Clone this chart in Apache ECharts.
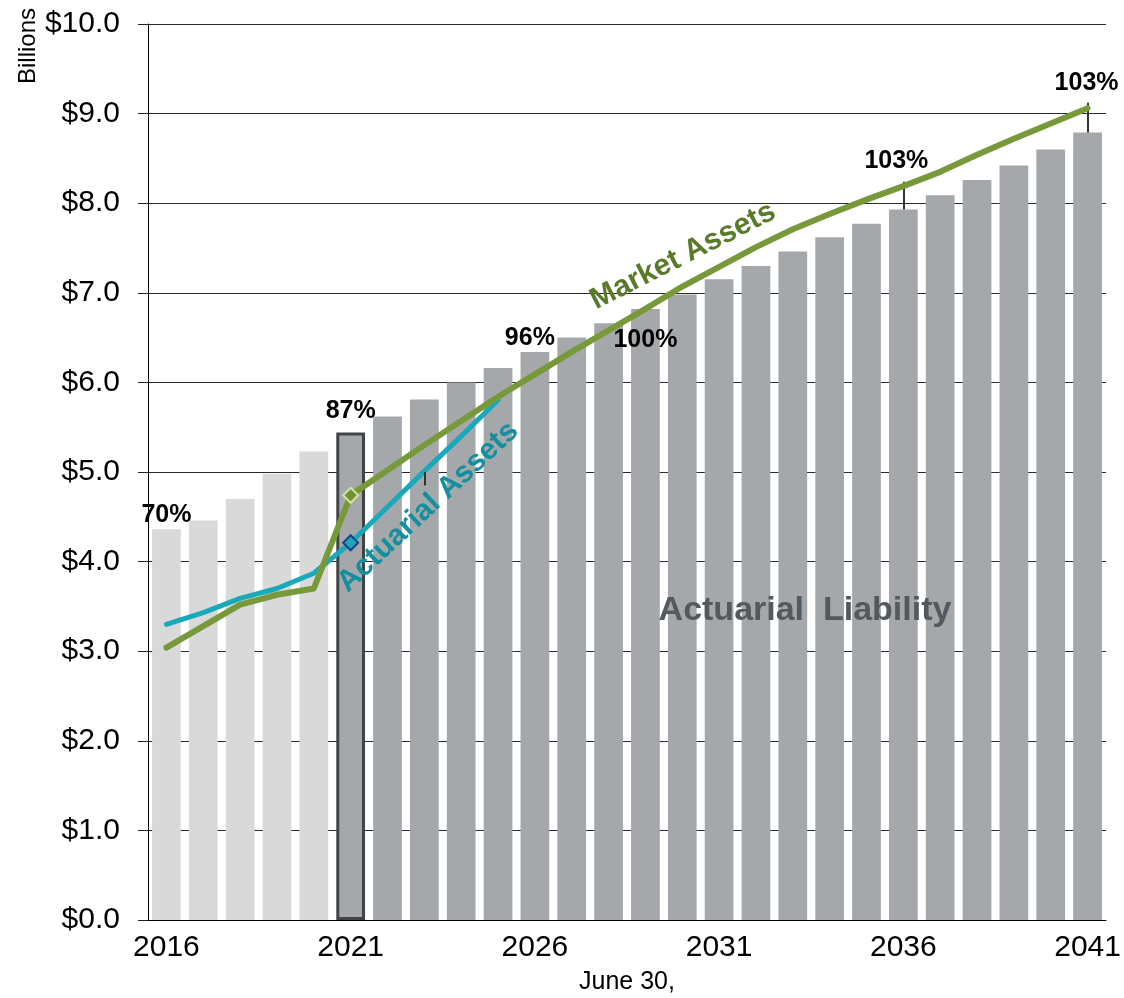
<!DOCTYPE html>
<html>
<head>
<meta charset="utf-8">
<title>Actuarial Liability and Assets</title>
<script src="https://cdn.jsdelivr.net/npm/echarts@6/dist/echarts.min.js"></script>
<style>
  html, body { margin: 0; padding: 0; background: #ffffff; }
  #chart { width: 1124px; height: 998px; }
</style>
</head>
<body>
<div id="chart"></div>
<script>
// Fiscal years ending June 30
const years = ['2016','2017','2018','2019','2020','2021','2022','2023','2024','2025','2026','2027','2028',
  '2029','2030','2031','2032','2033','2034','2035','2036','2037','2038','2039','2040','2041'];

// Values in $ billions
const actuarialLiability = [4.36, 4.46, 4.70, 4.98, 5.23, 5.44, 5.62, 5.81, 6.00, 6.16, 6.34, 6.50, 6.66,
  6.82, 6.98, 7.15, 7.30, 7.46, 7.62, 7.77, 7.93, 8.09, 8.26, 8.42, 8.60, 8.79];
const marketAssets = [3.04, 3.28, 3.52, 3.63, 3.70, 4.74, 5.02, 5.30, 5.57, 5.84, 6.09, 6.34, 6.58,
  6.82, 7.07, 7.29, 7.51, 7.71, 7.88, 8.04, 8.19, 8.35, 8.54, 8.72, 8.89, 9.06];
const actuarialAssets = [3.30, 3.43, 3.59, 3.70, 3.87, 4.21, 4.61, 5.01, 5.40, 5.80];

// Years annotated with the funded ratio (market assets / liability)
const ratioYears = ['2016', '2021', '2026', '2029', '2036', '2041'];
const valuationYear = '2021';
const lastHistoricalYear = '2020';

const FONT = '"Liberation Sans", Arial, sans-serif';

const chart = echarts.init(document.getElementById('chart'), null, { renderer: 'canvas' });

const histEnd = years.indexOf(lastHistoricalYear);
const valIdx = years.indexOf(valuationYear);

const barData = actuarialLiability.map((v, i) => {
  if (i === valIdx) {
    return { value: v, itemStyle: { color: '#a5a8ab', borderColor: '#3f4444', borderWidth: 3 } };
  }
  return { value: v, itemStyle: { color: i <= histEnd ? '#d9d9d9' : '#a5a8ab' } };
});

const marketData = marketAssets.map((v, i) => i === valIdx
  ? { value: v, symbol: 'diamond', symbolSize: 15,
      itemStyle: { color: '#6f9034', borderColor: '#d4e29b', borderWidth: 2 } }
  : { value: v, symbol: 'none' });

const actuarialData = years.map((y, i) => {
  if (i >= actuarialAssets.length) return '-';
  return i === valIdx
    ? { value: actuarialAssets[i], symbol: 'diamond', symbolSize: 15,
        itemStyle: { color: '#1aa8bb', borderColor: '#1d3f8a', borderWidth: 2 } }
    : { value: actuarialAssets[i], symbol: 'none' };
});

// Label placement around each annotated bar top
const ratioOffsets = {
  '2016': [0, -14], '2021': [0, -21], '2026': [-5, -14],
  '2029': [0, 31], '2036': [-7, -48], '2041': [-1, -49]
};

const ratioData = ratioYears.map(y => {
  const i = years.indexOf(y);
  const pct = Math.round(marketAssets[i] / actuarialLiability[i] * 100);
  return {
    value: [y, actuarialLiability[i]],
    pct: pct,
    label: { offset: ratioOffsets[y] }
  };
});

const i2036 = years.indexOf('2036');
const i2041 = years.indexOf('2041');

const option = {
  animation: false,
  backgroundColor: '#ffffff',
  grid: { left: 148, right: 18, top: 24, bottom: 78, containLabel: false },
  xAxis: {
    type: 'category',
    data: years,
    boundaryGap: true,
    axisLine: { show: true, lineStyle: { color: '#000', width: 1 } },
    axisTick: { show: false },
    axisLabel: {
      interval: 4, margin: 13,
      fontFamily: FONT, fontSize: 30, color: '#000'
    },
    splitLine: { show: false }
  },
  yAxis: {
    type: 'value',
    min: 0, max: 10, interval: 1,
    axisLine: { show: true, lineStyle: { color: '#000', width: 1 } },
    axisTick: { show: true, length: 10, lineStyle: { color: '#222', width: 1 } },
    axisLabel: {
      margin: 28, fontFamily: FONT, fontSize: 30, color: '#000',
      formatter: v => '$' + v.toFixed(1)
    },
    splitLine: { show: true, lineStyle: { color: '#2a2a2a', width: 1 } }
  },
  series: [
    {
      name: 'Actuarial Liability',
      type: 'bar',
      data: barData,
      barCategoryGap: '22%',
      z: 2
    },
    {
      name: 'Actuarial Assets',
      type: 'line',
      data: actuarialData,
      showSymbol: true,
      lineStyle: { color: '#1aa8bb', width: 5, cap: 'round', join: 'round' },
      itemStyle: { color: '#1aa8bb' },
      z: 4
    },
    {
      name: 'Market Assets',
      type: 'line',
      data: marketData,
      showSymbol: true,
      lineStyle: { color: '#77993a', width: 6, cap: 'round', join: 'round' },
      itemStyle: { color: '#77993a' },
      z: 5
    },
    {
      name: 'Funded Ratio',
      type: 'scatter',
      data: ratioData,
      symbolSize: 1,
      itemStyle: { color: 'rgba(0,0,0,0)', opacity: 1 },
      label: {
        show: true, position: 'inside', opacity: 1,
        fontFamily: FONT, fontSize: 25, fontWeight: 'bold', color: '#000',
        formatter: p => p.data.pct + '%'
      },
      markLine: {
        silent: true,
        symbol: 'none',
        label: { show: false },
        lineStyle: { color: '#333', width: 2, type: 'solid', opacity: 1 },
        data: [
          [{ coord: ['2036', 8.24] }, { coord: ['2036', actuarialLiability[i2036]] }],
          [{ coord: ['2041', 9.12] }, { coord: ['2041', actuarialLiability[i2041]] }],
          [{ coord: ['2023', 4.85] }, { coord: ['2023', 5.0] }]
        ]
      },
      z: 3
    }
  ],
  graphic: [
    {
      type: 'text', x: 28, y: 46, rotation: Math.PI / 2,
      style: { text: 'Billions', fontFamily: FONT, fontSize: 24, fill: '#000',
        align: 'center', verticalAlign: 'middle' }
    },
    {
      type: 'text', x: 627, y: 982,
      style: { text: 'June 30,', fontFamily: FONT, fontSize: 25, fill: '#000',
        align: 'center', verticalAlign: 'middle' }
    },
    {
      type: 'text', x: 805, y: 611, z: 10,
      style: { text: 'Actuarial  Liability', fontFamily: FONT, fontSize: 34, fontWeight: 'bold',
        fill: '#54595e', align: 'center', verticalAlign: 'middle' }
    },
    {
      type: 'text', x: 683, y: 256, z: 10, rotation: 27 * Math.PI / 180,
      style: { text: 'Market Assets', fontFamily: FONT, fontSize: 30, fontWeight: 'bold',
        fill: '#5a7a2a', align: 'center', verticalAlign: 'middle' }
    },
    {
      type: 'text', x: 428, y: 507, z: 10, rotation: 43 * Math.PI / 180,
      style: { text: 'Actuarial Assets', fontFamily: FONT, fontSize: 30, fontWeight: 'bold',
        fill: '#12909f', align: 'center', verticalAlign: 'middle' }
    }
  ]
};

chart.setOption(option);
</script>
</body>
</html>
